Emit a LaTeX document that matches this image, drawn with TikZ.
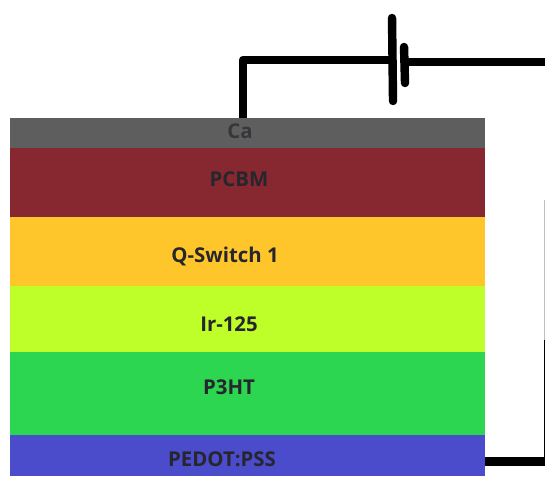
\documentclass[tikz,border=0pt]{standalone}
\usepackage{fontspec}
\setmainfont{Open Sans}
\usetikzlibrary{positioning}
\definecolor{caGray}{RGB}{94,94,94}
\definecolor{pcbmRed}{RGB}{135,40,48}
\definecolor{qsYellow}{RGB}{255,198,43}
\definecolor{irGreen}{RGB}{190,255,42}
\definecolor{p3htGreen}{RGB}{44,214,80}
\definecolor{pedotBlue}{RGB}{74,76,204}
\definecolor{labelDark}{RGB}{38,38,44}
\tikzset{
layer/.style={minimum width=23.75cm,inner sep=0pt,outer sep=0pt,anchor=north west},
lbl/.style={text=labelDark,font=\fontsize{29}{31}\selectfont\bfseries,inner sep=0pt},
wire/.style={line width=12pt,line cap=round,line join=round}
}
\begin{document}
\begin{tikzpicture}[xscale=0.05,yscale=-0.05]
\useasboundingbox (0,0) rectangle (545,476);
\begin{scope}
\clip (0,0) rectangle (545,476);
\node[layer,fill=caGray,minimum height=1.5cm] (ca) at (10,118) {};
\node[layer,fill=pcbmRed,minimum height=3.45cm] (pcbm) at (10,148) {};
\node[layer,fill=qsYellow,minimum height=3.45cm] (qswitch) at (10,217) {};
\node[layer,fill=irGreen,minimum height=3.3cm] (ir) at (10,286) {};
\node[layer,fill=p3htGreen,minimum height=4.15cm] (p3ht) at (10,352) {};
\node[layer,fill=pedotBlue,minimum height=2.05cm] (pedot) at (10,435) {};
\node[lbl,text=labelDark!70!caGray] at (240,131) {Ca};
\node[lbl] at (239,179) {PCBM};
\node[lbl] at (225,256) {Q-Switch 1};
\node[lbl] at (229,324) {Ir-125};
\node[lbl] at (229,387) {P3HT};
\node[lbl] at (222,459) {PEDOT:PSS};
% battery
\coordinate (longtop) at (392,18);
\coordinate (longbot) at (393,101);
\coordinate (shorttop) at (404,47);
\coordinate (shortbot) at (405,83);
\draw[wire] (longtop) -- (longbot);
\draw[wire] (shorttop) -- (shortbot);
\coordinate (corner) at (243,60);
\coordinate (right1) at (550,62);
\coordinate (right2) at (548,461.5);
\coordinate (right3) at (548,340);
\coordinate (right4) at (544.4,200);
\draw[wire,line cap=butt] (ca.north -| corner) -- (corner) -- (corner -| longtop);
\draw[wire,line cap=butt] (shorttop |- right1) -- (right1);
\draw[wire,line cap=butt] (pedot.east |- right2) -- (right2) -- (right3);
\draw[gray!50,line width=1pt] (right3 -| right4) -- (right4);
\end{scope}
\end{tikzpicture}
\end{document}
